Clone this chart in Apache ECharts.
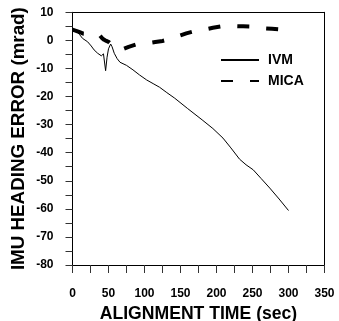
<!DOCTYPE html>
<html>
<head>
<meta charset="utf-8">
<script src="https://cdn.jsdelivr.net/npm/echarts@6/dist/echarts.min.js"></script>
<style>html,body{margin:0;padding:0;background:#fff;}#c{width:339px;height:321px;}</style>
</head>
<body>
<div id="c"></div>
<script>
const xAxisName = 'ALIGNMENT TIME (sec)';
const yAxisName = 'IMU HEADING ERROR (mrad)';
const seriesNames = ['IVM', 'MICA'];
const ivmTime = [0,5,10,14,21,26,30,35,40,43,46,48,50,53,55,58,62,66,75,84,93,103,112,121,131,142,160,180,195,209,220,232,241,251,262,274,287,300];
const ivmValues = [3.9,3.3,2,0.7,-0.5,-2,-3.4,-4.6,-5.5,-4.8,-10.8,-6,-3,-1.3,-2.3,-4.6,-6.5,-7.8,-8.9,-10.5,-12.3,-14.1,-15.4,-16.7,-18.6,-20.6,-24.3,-28.3,-31.4,-34.8,-38.3,-42.3,-44.3,-46.1,-49.2,-52.6,-56.5,-60.6];
const micaTime = [0,5,10,15,20,25,30,35,38,41,44,47,50,53,56,60,65,70,78,88,97,105,115,125,133,142,150,158,167,175,184,195,207,216,225,237,249,257,265,277,288,300];
const micaValues = [3.8,3.4,2.9,2.4,2.3,2.4,2.5,2.3,1.8,0.8,0.2,-0.2,-0.5,-1.2,-2,-2.8,-3.2,-3.1,-2.3,-1.5,-1.2,-1.0,-0.6,-0.2,0.3,1.1,1.8,2.5,3.1,3.5,3.9,4.5,5.0,5.1,5.1,5.0,4.9,4.6,4.3,4.1,3.9,3.5];

const pair = (xs, ys) => xs.map((x, i) => [x, ys[i]]);
const font = 'Liberation Sans, Arial, sans-serif';
const tickStyle = {color: '#333', width: 1};
const chart = echarts.init(document.getElementById('c'));
chart.setOption({
  animation: false,
  grid: {left: 72.5, right: 14.5, top: 12.3, bottom: 56, outerBoundsMode: 'none', containLabel: false},
  legend: {
    left: 220, top: 53, padding: 0, orient: 'vertical', itemWidth: 38, itemHeight: 14, itemGap: 7,
    data: seriesNames,
    itemStyle: {opacity: 0},
    textStyle: {fontFamily: font, fontWeight: 'bold', fontSize: 14, color: '#000', lineHeight: 14, padding: [0,0,0,4]}
  },
  xAxis: [{
    type: 'value', min: 0, max: 350, interval: 25,
    name: xAxisName, nameLocation: 'middle', nameGap: 40, nameMoveOverlap: false,
    nameTextStyle: {fontFamily: font, fontWeight: 'bold', fontSize: 17.6, color: '#000'},
    axisLine: {show: true, onZero: false, lineStyle: {color: '#000', width: 1}},
    axisTick: {show: true, length: 8, lineStyle: tickStyle},
    splitLine: {show: false},
    axisLabel: {fontFamily: font, fontWeight: 'bold', fontSize: 12, color: '#000', margin: 22.5,
      formatter: v => (v % 50 === 0 ? String(v) : '')}
  }, {
    type: 'value', min: 0, max: 350, position: 'top',
    axisLine: {show: true, onZero: false, lineStyle: {color: '#000', width: 1}},
    axisTick: {show: false}, axisLabel: {show: false}, splitLine: {show: false}
  }],
  yAxis: [{
    type: 'value', min: -80, max: 10, interval: 5,
    name: yAxisName, nameLocation: 'middle', nameGap: 44, nameRotate: 90, nameMoveOverlap: false,
    nameTextStyle: {fontFamily: font, fontWeight: 'bold', fontSize: 18.8, color: '#000'},
    axisLine: {show: true, onZero: false, lineStyle: {color: '#000', width: 1}},
    axisTick: {show: true, length: 7, lineStyle: tickStyle},
    splitLine: {show: false},
    axisLabel: {fontFamily: font, fontWeight: 'bold', fontSize: 12, color: '#000', margin: 19,
      formatter: v => (v % 10 === 0 ? String(v) : '')}
  }, {
    type: 'value', min: -80, max: 10, position: 'right',
    axisLine: {show: true, onZero: false, lineStyle: {color: '#000', width: 1}},
    axisTick: {show: false}, axisLabel: {show: false}, splitLine: {show: false}
  }],
  series: [
    {name: seriesNames[0], type: 'line', xAxisIndex: 0, yAxisIndex: 0, data: pair(ivmTime, ivmValues), symbol: 'none',
     lineStyle: {color: '#000', width: 1}, itemStyle: {color: '#000'}},
    {name: seriesNames[1], type: 'line', xAxisIndex: 0, yAxisIndex: 0, data: pair(micaTime, micaValues), symbol: 'none',
     lineStyle: {color: '#000', width: 4, type: [12, 17], cap: 'butt'}, itemStyle: {color: '#000'}}
  ]
});
</script>
</body>
</html>
